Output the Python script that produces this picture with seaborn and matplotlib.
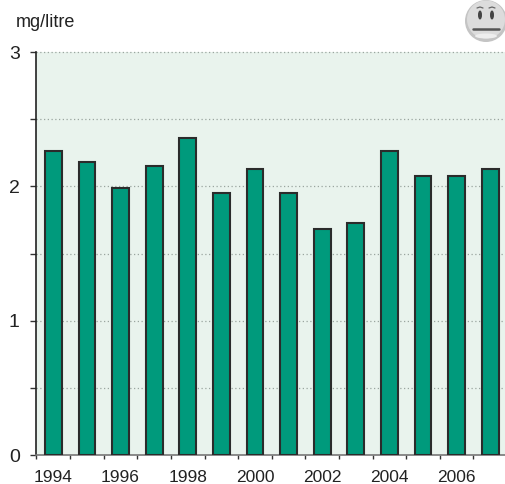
import matplotlib
matplotlib.use('Agg')
import matplotlib.pyplot as plt
from matplotlib.patches import Circle, Ellipse
import numpy as np
import pandas as pd
import seaborn as sns

years = [1994, 1995, 1996, 1997, 1998, 1999, 2000, 2001, 2002, 2003, 2004, 2005, 2006, 2007]
values = [2.26, 2.18, 1.985, 2.15, 2.36, 1.95, 2.13, 1.95, 1.68, 1.73, 2.26, 2.08, 2.08, 2.13]
year_labels = ['1994', '', '1996', '', '1998', '', '2000', '', '2002', '', '2004', '', '2006', '']
y_labels = ['0', '', '1', '', '2', '', '3']
y_ticks = [0, 0.5, 1, 1.5, 2, 2.5, 3]

sns.set_theme(style='white')
plt.rcParams['font.family'] = ['Liberation Sans', 'DejaVu Sans']

W, H = 506, 484
fig = plt.figure(figsize=(W / 100, H / 100), dpi=100)
ax = fig.add_axes([36.5 / W, 1 - 455 / H, (507 - 36.5) / W, (455 - 52) / H])
ax.set_facecolor('#e9f3ed')

df = pd.DataFrame({'year': years, 'value': values})
sns.barplot(data=df, x='year', y='value', ax=ax, color='#009a7c', saturation=1, width=0.5,
            edgecolor='#2b2b2b', linewidth=1.5, zorder=3)

ax.set_xlim(-0.5, 13.5)
ax.set_ylim(0, 3)
ax.set_xlabel('')
ax.set_ylabel('')

# dotted grid at every half unit
for y in y_ticks[1:]:
    ax.axhline(y, color='#9aa59f', lw=0.9, ls=(0, (1, 2)), zorder=1, clip_on=False)

for s in ['top', 'right']:
    ax.spines[s].set_visible(False)
ax.spines['left'].set_color('#222222')
ax.spines['left'].set_linewidth(1.2)
ax.spines['bottom'].set_color('#777777')
ax.spines['bottom'].set_linewidth(1.2)

ax.set_yticks(y_ticks)
ax.set_yticklabels(y_labels, fontsize=14, color='#222222')
ax.tick_params(axis='y', left=True, length=4, width=1, color='#333333', pad=8)

# x ticks sit between the bars, labels under the bars
ax.set_xticks(np.arange(-0.5, 13.5, 1), minor=True)
ax.set_xticks(range(len(years)))
ax.set_xticklabels(year_labels, fontsize=12.5, color='#222222')
ax.tick_params(axis='x', which='major', bottom=False, pad=4.5)
ax.tick_params(axis='x', which='minor', bottom=True, length=3, width=1, color='#333333')

fig.text(16 / W, 1 - 22.5 / H, 'mg/litre', fontsize=13, color='#222222', va='center', ha='left')

# smiley, drawn in pixel coordinates
ov = fig.add_axes([0, 0, 1, 1], facecolor='none')
ov.set_xlim(0, W)
ov.set_ylim(H, 0)
ov.axis('off')
ov.add_patch(Circle((486, 21), 21, fc='#c4c4c4', ec='none'))
ov.add_patch(Circle((486, 19.5), 19, fc='#dcdcdc', ec='none'))
ov.add_patch(Ellipse((486, 36), 22, 5, fc='#eeeeee', ec='none'))
ov.add_patch(Ellipse((480, 15), 4, 9, fc='#444444', ec='none'))
ov.add_patch(Ellipse((492, 15), 4, 9, fc='#444444', ec='none'))
ov.plot([473, 499], [29, 29], color='#555555', lw=1.8, solid_capstyle='round')
ov.plot([477, 480, 483], [8, 7, 8], color='#666666', lw=0.9)
ov.plot([489, 492, 495], [8, 7, 8], color='#666666', lw=0.9)

fig.savefig('out.png', dpi=100)
